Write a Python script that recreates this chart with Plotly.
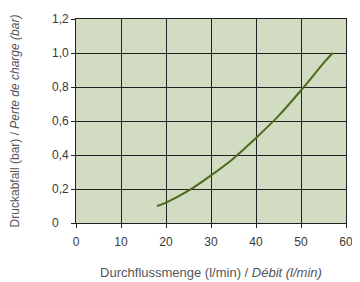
import plotly.graph_objects as go

flow = [18, 20, 25, 30, 35, 40, 45, 50, 55, 57]
pressure = [0.10, 0.12, 0.19, 0.28, 0.38, 0.50, 0.63, 0.78, 0.94, 1.00]

x_ticks = [0, 10, 20, 30, 40, 50, 60]
y_ticks = [0, 0.2, 0.4, 0.6, 0.8, 1.0, 1.2]
y_labels = ["0", "0,2", "0,4", "0,6", "0,8", "1,0", "1,2"]

fig = go.Figure()
fig.add_trace(go.Scatter(x=flow, y=pressure, mode="lines", line=dict(color="#4d6b1c", width=2, shape="spline"),
                         showlegend=False, hoverinfo="skip"))

font = "Liberation Sans, Arial, sans-serif"
# left-aligned y tick labels, as in the reference
for v, t in zip(y_ticks, y_labels):
    fig.add_annotation(text=t, xref="paper", x=-26 / 270, xanchor="left", yref="y", y=v, yanchor="middle",
                       showarrow=False, font=dict(size=12, color="#3a3a3a", family=font))

fig.update_layout(
    width=352, height=274,
    margin=dict(l=68, r=14, t=11, b=59),
    paper_bgcolor="white", plot_bgcolor="#d1dcc3",
    font=dict(family=font, color="#3a3a3a", size=12),
    xaxis=dict(range=[0, 60], tickvals=x_ticks, showgrid=True, gridcolor="#222222", gridwidth=1,
               showline=True, linecolor="#222222", linewidth=1, mirror=True, automargin=False,
               ticks="outside", ticklen=4, tickcolor="#222222", zeroline=False, ticklabelstandoff=4,
               title=dict(text="Durchflussmenge (l/min) / <i>Débit (l/min)</i>", font=dict(size=13, color="#555555"), standoff=19),
               fixedrange=True),
    yaxis=dict(range=[0, 1.2], tickvals=y_ticks, showticklabels=False, showgrid=True, gridcolor="#222222", gridwidth=1,
               showline=True, linecolor="#222222", linewidth=1, mirror=True, automargin=False,
               ticks="outside", ticklen=4, tickcolor="#222222", zeroline=False,
               title=dict(text="Druckabfall (bar) / <i>Perte de charge (bar)</i>", font=dict(size=12, color="#555555"), standoff=55),
               fixedrange=True),
)
fig.write_html("out.html")
